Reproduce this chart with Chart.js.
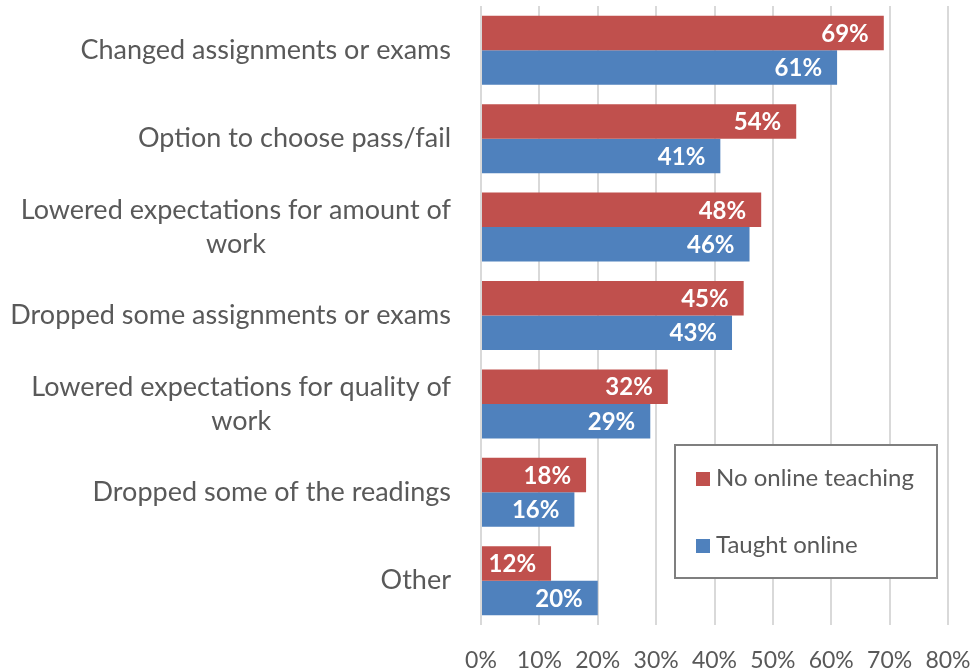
<!DOCTYPE html>
<html lang="en">

<head>
  <meta charset="UTF-8">
  <title>Course changes</title>
  <script src="https://cdn.jsdelivr.net/npm/chart.js@4.4.1/dist/chart.umd.min.js"></script>
  <style>
    html, body { margin: 0; padding: 0; background: #fff; }
    #wrap { position: relative; width: 978px; height: 672px; }
  </style>
</head>

<body>
  <div id="wrap"><canvas id="myChart" width="978" height="672"></canvas></div>

  <script>
    // categories (multi-line labels as arrays)
    const categories = [
      ["Changed assignments or exams"],
      ["Option to choose pass/fail"],
      ["Lowered expectations for amount of", "work"],
      ["Dropped some assignments or exams"],
      ["Lowered expectations for quality of", "work"],
      ["Dropped some of the readings"],
      ["Other"]
    ];
    const noOnline = [69, 54, 48, 45, 32, 18, 12];
    const taughtOnline = [61, 41, 46, 43, 29, 16, 20];
    const xTicks = [0, 10, 20, 30, 40, 50, 60, 70, 80];

    const RED = "#C0504D";
    const BLUE = "#4F81BD";
    const GREY = "#595959";
    const FONT = "Lato, 'Open Sans', sans-serif";

    // category labels, right edge fixed, lines centered on each other
    const catLabels = {
      id: 'catLabels',
      afterDraw(chart) {
        const ctx = chart.ctx;
        const y = chart.scales.y;
        ctx.save();
        ctx.font = "27px " + FONT;
        ctx.fillStyle = GREY;
        ctx.textAlign = "center";
        ctx.textBaseline = "middle";
        categories.forEach((lines, i) => {
          const cy = y.getPixelForValue(i);
          const w = Math.max(...lines.map(l => ctx.measureText(l).width));
          const cx = 451 - w / 2;
          const lh = 34;
          const top = cy - (lines.length - 1) * lh / 2;
          lines.forEach((l, j) => ctx.fillText(l, cx, top + j * lh));
        });
        ctx.restore();
      }
    };

    // white value labels at the bar ends
    const valueLabels = {
      id: 'valueLabels',
      afterDatasetsDraw(chart) {
        const ctx = chart.ctx;
        ctx.save();
        ctx.font = "bold 24px " + FONT;
        ctx.fillStyle = "#fff";
        ctx.textAlign = "right";
        ctx.textBaseline = "middle";
        chart.data.datasets.forEach((ds, di) => {
          chart.getDatasetMeta(di).data.forEach((bar, i) => {
            ctx.fillText(ds.data[i] + "%", bar.x - 15, bar.y + 1);
          });
        });
        ctx.restore();
      }
    };

    // boxed legend in the lower right
    const boxLegend = {
      id: 'boxLegend',
      afterDraw(chart) {
        const ctx = chart.ctx;
        ctx.save();
        ctx.fillStyle = "#fff";
        ctx.fillRect(675, 445, 262, 133);
        ctx.strokeStyle = "#7f7f7f";
        ctx.lineWidth = 2;
        ctx.strokeRect(675, 445, 262, 133);
        const items = [["No online teaching", RED, 478], ["Taught online", BLUE, 545]];
        ctx.font = "24px " + FONT;
        ctx.textBaseline = "middle";
        ctx.textAlign = "left";
        items.forEach(it => {
          ctx.fillStyle = it[1];
          ctx.fillRect(696, it[2] - 6, 14, 14);
          ctx.fillStyle = GREY;
          ctx.fillText(it[0], 716, it[2]);
        });
        ctx.restore();
      }
    };

    const ctx = document.getElementById('myChart').getContext('2d');
    const myChart = new Chart(ctx, {
      type: 'bar',
      data: {
        labels: categories.map(c => c.join(" ")),
        datasets: [{
          label: "No online teaching",
          data: noOnline,
          backgroundColor: RED
        }, {
          label: "Taught online",
          data: taughtOnline,
          backgroundColor: BLUE
        }]
      },
      options: {
        indexAxis: 'y',
        responsive: false,
        animation: false,
        devicePixelRatio: 1,
        layout: { padding: { top: 6, right: 30, left: 0, bottom: 0 } },
        datasets: { bar: { categoryPercentage: 0.78, barPercentage: 1 } },
        plugins: { legend: { display: false }, tooltip: { enabled: false } },
        scales: {
          x: {
            min: 0,
            max: 80,
            afterBuildTicks(scale) { scale.ticks = xTicks.map(v => ({ value: v })); },
            afterFit(scale) {
              scale.height = 47;
              scale.paddingRight = 0;
              scale.paddingLeft = 0;
            },
            grid: { color: "#d9d9d9", lineWidth: 2, drawTicks: false },
            border: { display: false },
            ticks: {
              padding: 22,
              color: GREY,
              font: { family: FONT, size: 23 },
              callback: v => v + "%"
            }
          },
          y: {
            afterFit(scale) { scale.width = 481; },
            grid: { display: false },
            border: { display: false },
            ticks: { display: false }
          }
        }
      },
      plugins: [catLabels, valueLabels, boxLegend]
    });
  </script>

</body>

</html>
